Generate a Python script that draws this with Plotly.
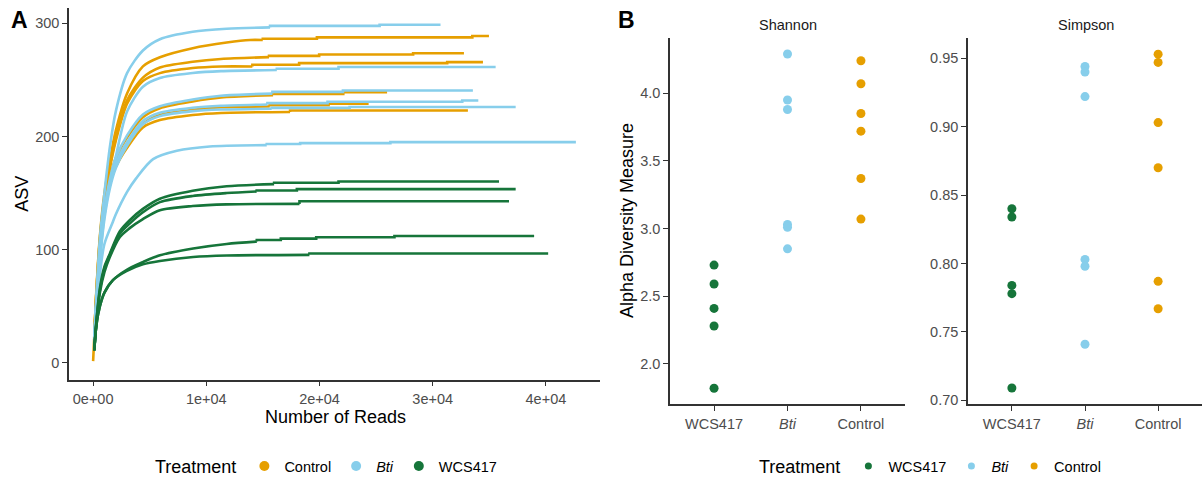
import plotly.graph_objects as go

W, H = 1203, 484
ORANGE = "#E69F00"
SKY = "#87CEEB"
GREEN = "#16753A"
FONT = "Liberation Sans, Arial, sans-serif"

# ---------------- Panel A: rarefaction curves (reads, ASV)
c1_reads = [100, 300, 600, 1000, 1500, 2000, 3000, 4400, 5900, 8800, 11800, 13860, 14990, 14990, 19770, 19770, 33500, 33500, 34970]
c1_asv = [24, 66, 112, 150, 180, 205, 238, 262, 270, 278, 283, 285.3, 285.3, 286.4, 286.4, 287.6, 287.6, 288.8, 288.8]
c2_reads = [100, 300, 600, 1000, 1500, 2000, 3000, 4400, 5900, 8800, 11300, 15540, 15540, 19970, 19970, 28270, 28270, 32760]
c2_asv = [24, 65, 110, 146, 175, 198, 232, 252, 261, 266, 268.5, 270.1, 271.2, 271.2, 272.4, 272.4, 273.6, 273.6]
c3_reads = [100, 300, 600, 1000, 1500, 2000, 3000, 4400, 5900, 8800, 11300, 14070, 14070, 18200, 18200, 31280, 31280, 34440]
c3_asv = [23, 64, 108, 145, 173, 196, 229, 249, 256, 260.5, 261.9, 261.9, 263.4, 263.4, 264.8, 264.8, 265.7, 265.7]
c4_reads = [100, 300, 600, 1000, 1500, 2000, 3000, 4400, 5900, 8800, 11300, 15900, 15900, 22100, 22100, 25970]
c4_asv = [20, 58, 98, 136, 164, 181, 199, 217, 225, 231, 234.5, 236.5, 237.7, 237.7, 239.1, 239.1]
c5_reads = [100, 300, 600, 1000, 1500, 2000, 3000, 4400, 5900, 8800, 11300, 15600, 15600, 20800, 20800, 24340]
c5_asv = [22, 60, 100, 137, 162, 177, 194, 211, 219, 223.5, 225.8, 226.5, 227.7, 227.7, 228.9, 228.9]
c6_reads = [1, 100, 300, 600, 1000, 1500, 2000, 3000, 4400, 5900, 8800, 11300, 17400, 17400, 33110]
c6_asv = [1.5, 22, 58, 97, 134, 158, 173, 190, 208, 214.5, 219, 220.8, 221.6, 223, 223]

b1_reads = [100, 300, 600, 1000, 1500, 2000, 3000, 4400, 5900, 8800, 11800, 15630, 15630, 25310, 25310, 30690]
b1_asv = [22, 62, 110, 150, 192, 222, 256, 276, 286, 292.6, 295.2, 296.4, 297.8, 297.8, 298.7, 298.7]
b2_reads = [100, 300, 600, 1000, 1500, 2000, 3000, 4400, 5900, 8800, 11300, 16230, 16230, 21680, 21680, 35560]
b2_asv = [20, 56, 98, 136, 160, 182, 222, 244, 251.7, 256.1, 257.8, 258.7, 259.9, 259.9, 261.4, 261.4]
b3_reads = [100, 300, 600, 1000, 1500, 2000, 3000, 4400, 5900, 8800, 11300, 15840, 15840, 22070, 22070, 33550]
b3_asv = [19, 55, 95, 134, 163, 181, 201, 219.5, 226.8, 232.7, 236, 237.9, 239.4, 239.4, 240.6, 240.6]
b4_reads = [100, 300, 600, 1000, 1500, 2000, 3000, 4400, 5900, 8800, 11300, 15400, 15400, 20710, 20710, 32610, 32610, 34030]
b4_asv = [19, 54, 92, 130, 158, 176, 195, 213.7, 221, 225.4, 227.2, 228.3, 229.5, 229.5, 230.7, 230.7, 231.8, 231.8]
b5_reads = [100, 300, 600, 1000, 1500, 2000, 3000, 4400, 5900, 8800, 11300, 15780, 15780, 22660, 22660, 37330]
b5_asv = [18, 52, 90, 127, 155, 172, 192, 210.8, 218, 222.4, 223.8, 224.5, 225.3, 225.3, 226, 226]
b6_reads = [100, 300, 600, 1000, 1750, 2000, 3000, 3800, 5300, 7400, 10300, 15340, 15340, 18290, 18290, 26260, 26260, 42650]
b6_asv = [12, 38, 78, 105, 124.6, 131, 151, 163, 180, 187.4, 191.2, 192.4, 193.3, 193.3, 194.1, 194.1, 195, 195]

g1_reads = [100, 300, 600, 1000, 1460, 2350, 3230, 4400, 5900, 8800, 11800, 15990, 15990, 21680, 21680, 35860]
g1_asv = [11, 38, 66, 85, 96, 116, 126, 136, 145, 152, 156, 157.9, 159.1, 159.1, 160.2, 160.2]
g2_reads = [100, 300, 600, 1000, 1460, 2350, 3230, 4400, 5900, 8800, 11800, 14450, 14450, 18000, 18000, 37330]
g2_asv = [11, 37, 64, 83, 95, 114, 123, 133, 142, 147.4, 150, 151.4, 152.3, 152.3, 153.5, 153.5]
g3_reads = [100, 300, 600, 1000, 1460, 2350, 3230, 4400, 5900, 8800, 11800, 18230, 18230, 36740]
g3_asv = [11, 36, 62, 80, 93, 111, 119, 127, 134.8, 138.5, 140, 140.4, 142.7, 142.7]
g4_reads = [100, 300, 600, 1000, 1750, 2940, 4400, 5900, 8840, 11800, 14460, 14460, 16580, 16580, 19710, 19710, 26620, 26620, 38960]
g4_asv = [11, 34, 50, 62, 73, 82, 89, 95, 101, 105, 107.1, 108.5, 108.5, 109.7, 109.7, 110.9, 110.9, 112, 112]
g5_reads = [100, 300, 600, 1000, 1750, 2940, 4400, 5900, 8840, 11800, 19110, 19110, 40200]
g5_asv = [11, 34, 50, 62, 73, 81, 87, 90, 93.5, 94.8, 95.4, 96.6, 96.6]

x_ticks_a = [0, 10000, 20000, 30000, 40000]
x_ticklabels_a = ["0e+00", "1e+04", "2e+04", "3e+04", "4e+04"]
y_ticks_a = [0, 100, 200, 300]

# ---------------- Panel B: alpha diversity
groups = ["WCS417", "<i>Bti</i>", "Control"]
shannon_wcs417 = [2.73, 2.59, 2.41, 2.28, 1.82]
shannon_bti = [4.29, 3.95, 3.88, 3.03, 3.01, 2.85]
shannon_control = [4.24, 4.07, 3.85, 3.72, 3.37, 3.07]
simpson_wcs417 = [0.840, 0.834, 0.784, 0.778, 0.709]
simpson_bti = [0.944, 0.940, 0.922, 0.803, 0.798, 0.741]
simpson_control = [0.953, 0.947, 0.903, 0.870, 0.787, 0.767]
shannon_ticks = [2.0, 2.5, 3.0, 3.5, 4.0]
simpson_ticks = [0.70, 0.75, 0.80, 0.85, 0.90, 0.95]

fig = go.Figure()

orange_curves = [(c1_reads, c1_asv), (c2_reads, c2_asv), (c3_reads, c3_asv),
                 (c4_reads, c4_asv), (c5_reads, c5_asv), (c6_reads, c6_asv)]
blue_curves = [(b1_reads, b1_asv), (b2_reads, b2_asv), (b3_reads, b3_asv),
               (b4_reads, b4_asv), (b5_reads, b5_asv), (b6_reads, b6_asv)]
green_curves = [(g1_reads, g1_asv), (g2_reads, g2_asv), (g3_reads, g3_asv),
                (g4_reads, g4_asv), (g5_reads, g5_asv)]


def split_at_first_step(rx):
    for i in range(1, len(rx)):
        if rx[i] == rx[i - 1]:
            return i - 1
    return len(rx) - 1


for col, curves in [(ORANGE, orange_curves), (SKY, blue_curves), (GREEN, green_curves)]:
    for rx, ry in curves:
        k = split_at_first_step(rx)
        # smooth rising part
        fig.add_trace(go.Scatter(x=rx[:k + 1], y=ry[:k + 1], mode="lines",
                                 line=dict(color=col, width=2.6, shape="spline", smoothing=0.8),
                                 xaxis="x", yaxis="y", showlegend=False, hoverinfo="skip"))
        # stepped plateau
        fig.add_trace(go.Scatter(x=rx[k:], y=ry[k:], mode="lines",
                                 line=dict(color=col, width=2.6),
                                 xaxis="x", yaxis="y", showlegend=False, hoverinfo="skip"))

# legend A (dots)
for name, col in [("Control", ORANGE), ("<i>Bti</i>", SKY), ("WCS417", GREEN)]:
    fig.add_trace(go.Scatter(x=[None], y=[None], mode="markers", name=name,
                             marker=dict(color=col, size=10), xaxis="x", yaxis="y",
                             legend="legend"))

# Panel B points
for xa, ya, sets in [("x2", "y2", [shannon_wcs417, shannon_bti, shannon_control]),
                     ("x3", "y3", [simpson_wcs417, simpson_bti, simpson_control])]:
    for g, vals, col in zip(groups, sets, [GREEN, SKY, ORANGE]):
        fig.add_trace(go.Scatter(x=[g] * len(vals), y=vals, mode="markers",
                                 marker=dict(color=col, size=9), xaxis=xa, yaxis=ya,
                                 showlegend=False))

for g, col in zip(groups, [GREEN, SKY, ORANGE]):
    fig.add_trace(go.Scatter(x=[None], y=[None], mode="markers", name=g,
                             marker=dict(color=col, size=7), xaxis="x2", yaxis="y2",
                             legend="legend2"))

AX = dict(showline=True, linecolor="#333333", linewidth=1.5, ticks="outside", ticklen=5,
          tickwidth=1.3, tickcolor="#333333", showgrid=False, zeroline=False,
          tickfont=dict(family=FONT, size=14.5, color="#4D4D4D"))


def px_x(p):
    return p / W


def px_y(p):
    return 1 - p / H


fig.update_layout(
    width=W, height=H, margin=dict(l=0, r=0, t=0, b=0), autosize=False,
    plot_bgcolor="white", paper_bgcolor="white",
    font=dict(family=FONT, color="black"),
    xaxis=dict(AX, domain=[px_x(69), px_x(600)], range=[-2130, 44780], anchor="y",
               tickvals=x_ticks_a, ticktext=x_ticklabels_a),
    yaxis=dict(AX, domain=[px_y(382), px_y(8)], range=[-14.9, 313.6], anchor="x",
               tickvals=y_ticks_a),
    xaxis2=dict(AX, domain=[px_x(670), px_x(905)], type="category", categoryorder="array",
                categoryarray=groups, range=[-0.6, 2.6], anchor="y2"),
    yaxis2=dict(AX, domain=[px_y(407), px_y(38)], range=[1.70, 4.41], anchor="x2",
                tickvals=shannon_ticks, ticktext=[f"{v:.1f}" for v in shannon_ticks]),
    xaxis3=dict(AX, domain=[px_x(968), px_x(1202)], type="category", categoryorder="array",
                categoryarray=groups, range=[-0.6, 2.6], anchor="y3"),
    yaxis3=dict(AX, domain=[px_y(407), px_y(38)], range=[0.697, 0.965], anchor="x3",
                tickvals=simpson_ticks, ticktext=[f"{v:.2f}" for v in simpson_ticks]),
    legend=dict(orientation="h", x=px_x(153), xanchor="left", y=px_y(470), yanchor="middle",
                title=dict(text="Treatment", side="left", font=dict(size=18, family=FONT)),
                font=dict(size=14.5, family=FONT), itemwidth=30, bgcolor="rgba(0,0,0,0)"),
    legend2=dict(orientation="h", x=px_x(757), xanchor="left", y=px_y(470), yanchor="middle",
                 title=dict(text="Treatment", side="left", font=dict(size=18, family=FONT)),
                 font=dict(size=14.5, family=FONT), itemwidth=30, bgcolor="rgba(0,0,0,0)"),
)

ann = [
    dict(text="<b>A</b>", x=px_x(19), y=px_y(20), font=dict(size=23)),
    dict(text="<b>B</b>", x=px_x(626), y=px_y(20), font=dict(size=23)),
    dict(text="ASV", x=px_x(22), y=px_y(195), font=dict(size=18), textangle=-90),
    dict(text="Number of Reads", x=px_x(335), y=px_y(420), font=dict(size=18)),
    dict(text="Alpha Diversity Measure", x=px_x(627), y=px_y(222.5), font=dict(size=18), textangle=-90),
    dict(text="Shannon", x=px_x(788), y=px_y(25), font=dict(size=14.5, color="#1A1A1A")),
    dict(text="Simpson", x=px_x(1086), y=px_y(25), font=dict(size=14.5, color="#1A1A1A")),
]
for a in ann:
    a["font"]["family"] = FONT
    a["font"].setdefault("color", "black")
    fig.add_annotation(xref="paper", yref="paper", showarrow=False, xanchor="center",
                       yanchor="middle", **a)

fig.write_html("out.html")
